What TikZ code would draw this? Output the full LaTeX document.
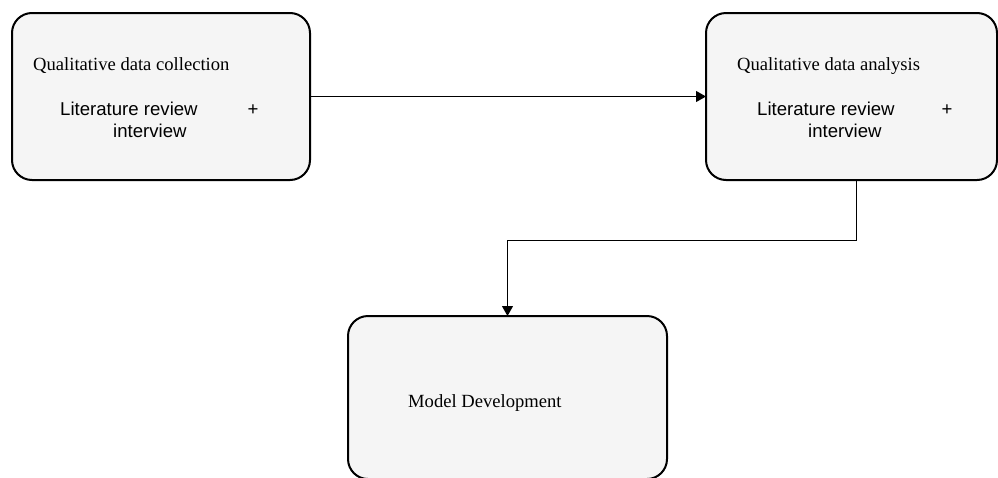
\documentclass[tikz,border=0pt]{standalone}
\usepackage{fontspec}
\setmainfont{Liberation Serif}
\newfontfamily\arialfont{Liberation Sans}
\usetikzlibrary{arrows.meta}
\definecolor{boxfill}{HTML}{F5F5F5}
\begin{document}
\begin{tikzpicture}[x=1pt,y=-1pt,
  stagebox/.style={draw=black, line width=2pt, fill=boxfill, rounded corners=20pt,
    inner sep=0pt, outer sep=0pt},
  serifline/.style={anchor=base west, inner sep=0pt, font=\fontsize{18.6}{22}\selectfont},
  sansline/.style={anchor=base west, inner sep=0pt, font=\arialfont\fontsize{18.6}{22}\selectfont},
  flow/.style={draw=black, line width=1pt, -{Triangle[length=10pt,width=11pt]}}]
\useasboundingbox (0,0) rectangle (998,477);

% stage boxes
\node[stagebox, minimum width=298pt, minimum height=167pt] (collect) at (161,96.5) {};
\node[stagebox, minimum width=291pt, minimum height=167pt] (analyse) at (851.5,96.5) {};
\node[stagebox, minimum width=319pt, minimum height=163pt] (model) at (507.5,397.5) {};

% box texts
\node[serifline] (collectT) at (33,70.5) {Qualitative data collection};
\node[sansline] (collectL) at (60,115.5) {Literature review};
\node[sansline] (collectP) at (247.5,115.5) {+};
\node[sansline] (collectI) at (113,137.5) {interview};

\node[serifline] (analyseT) at (737,70.5) {Qualitative data analysis};
\node[sansline] (analyseL) at (757,115.5) {Literature review};
\node[sansline] (analyseP) at (941.5,115.5) {+};
\node[sansline] (analyseI) at (808,137.5) {interview};

\node[serifline] (modelT) at (408,407) {Model Development};

% connectors
\draw[flow] (collect.east) -- (analyse.west);
\coordinate (drop) at ([xshift=4.5pt]analyse.south);
\coordinate (turn) at ([yshift=-60pt]drop);
\draw[flow] (drop) -- (turn) -| (model.north);
\end{tikzpicture}
\end{document}
